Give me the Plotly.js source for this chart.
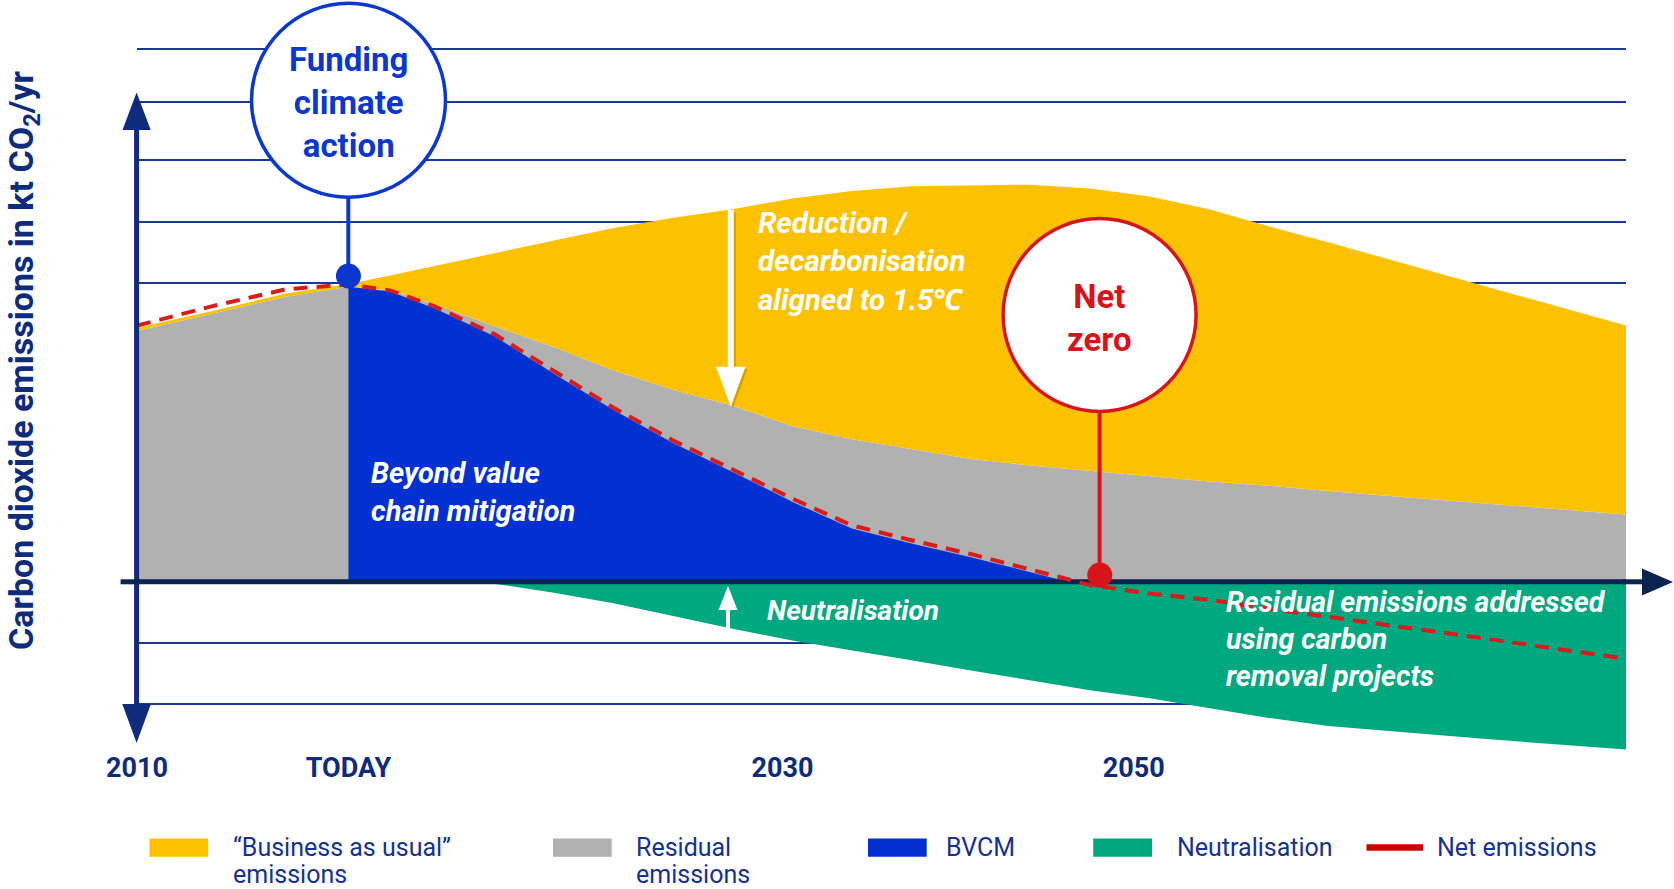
<!DOCTYPE html>
<html>
<head>
<meta charset="utf-8">
<script src="https://cdn.plot.ly/plotly-3.0.1.min.js"></script>
<style>
html,body{margin:0;padding:0;background:#ffffff;}
#chart{width:1674px;height:889px;}
</style>
</head>
<body>
<div id="chart"></div>
<script>
// ---------------- DATA (schematic timeline units: 2010 = 0 ... right edge = 100; y in kt CO2/yr units) -------------
const timeline = [0, 5, 10, 14.2, 17, 20, 24, 28, 32, 36, 40, 44, 48, 52, 56, 60, 64, 68, 72, 76, 80, 85, 90, 95, 100];
const residualEmissions = [4.094, 4.373, 4.652, 4.817, 4.756, 4.530, 4.172, 3.833, 3.449, 3.136, 2.875, 2.544, 2.326, 2.169, 2.003, 1.899, 1.812, 1.725, 1.638, 1.568, 1.481, 1.385, 1.289, 1.193, 1.098];
const businessAsUsual = [4.146, 4.416, 4.704, 4.861, 5.000, 5.157, 5.366, 5.575, 5.775, 5.941, 6.080, 6.254, 6.376, 6.455, 6.472, 6.481, 6.420, 6.289, 6.080, 5.801, 5.540, 5.200, 4.869, 4.530, 4.181];
const bvcmX = [14.2, 17, 20, 24, 28, 32, 36, 40, 44, 48, 52, 56, 60, 62.5];
const bvcmY = [4.817, 4.739, 4.460, 4.007, 3.397, 2.805, 2.265, 1.794, 1.307, 0.871, 0.627, 0.401, 0.157, 0];
const neutralisationX = [22.5, 24, 28, 32, 36, 40, 44, 48, 52, 56, 60, 64, 68, 72, 76, 80, 85, 90, 95, 100];
const neutralisationY = [0, -0.030, -0.180, -0.348, -0.557, -0.767, -0.958, -1.115, -1.280, -1.446, -1.603, -1.768, -1.899, -2.064, -2.221, -2.352, -2.456, -2.552, -2.648, -2.735];
const netEmissions = [4.181, 4.495, 4.774, 4.852, 4.756, 4.495, 4.042, 3.432, 2.840, 2.308, 1.838, 1.359, 0.923, 0.679, 0.453, 0.209, -0.052, -0.192, -0.293, -0.436, -0.575, -0.740, -0.906, -1.080, -1.254];
const tickPositions = [0, 14.2, 43.35, 66.94];
const tickLabels = ['2010', 'TODAY', '2030', '2050'];
const gridValues = [-2, -1, 4.88, 5.87, 6.88, 7.83, 8.70];
const calloutX = [14.2, 64.66];
const calloutY = [4.99, 0.11];
const seriesNames = ['\u201cBusiness as usual\u201d emissions', 'Residual emissions', 'BVCM', 'Neutralisation', 'Net emissions'];

// ---------------- STYLE / LAYOUT HELPERS ----------------
const W = 1674, H = 889, L = 137, R = 48, T = 20, B = 137;
const PW = W - L - R, PH = H - T - B;
const px = p => (p - L) / PW;          // pixel x -> paper
const py = p => (H - B - p) / PH;      // pixel y -> paper

const col = {
  bau: '#fcc200', residual: '#b1b1b1', bvcm: '#0330d0', neutral: '#00a880',
  net: '#d81c1c', navy: '#0f2b7c', dark: '#0b2350', fund: '#0b37cf', red: '#d7141a',
  grid: '#1b3a8c', legendText: '#16328c'
};
const FONT = 'Roboto, "Noto Sans", sans-serif';

const traces = [
  {x: timeline, y: residualEmissions, name: seriesNames[1], type: 'scatter', mode: 'lines',
   fill: 'tozeroy', fillcolor: col.residual, line: {width: 0, color: col.residual}, showlegend: false},
  {x: timeline, y: businessAsUsual, name: seriesNames[0], type: 'scatter', mode: 'lines',
   fill: 'tonexty', fillcolor: col.bau, line: {width: 0, color: col.bau}, showlegend: false},
  {x: bvcmX, y: bvcmY, name: seriesNames[2], type: 'scatter', mode: 'lines',
   fill: 'tozeroy', fillcolor: col.bvcm, line: {width: 0, color: col.bvcm}, showlegend: false},
  {x: neutralisationX, y: neutralisationY, name: seriesNames[3], type: 'scatter', mode: 'lines',
   fill: 'tozeroy', fillcolor: col.neutral, line: {width: 0, color: col.neutral}, showlegend: false},
  {x: [timeline[0], timeline[timeline.length - 1]], y: [0, 0], type: 'scatter', mode: 'lines',
   line: {width: 5, color: col.dark}, showlegend: false, hoverinfo: 'skip'},
  {x: timeline, y: netEmissions, name: seriesNames[4], type: 'scatter', mode: 'lines',
   line: {width: 4, color: col.net, dash: '14px,9px'}, showlegend: false},
  {x: calloutX, y: calloutY, type: 'scatter', mode: 'markers', cliponaxis: false,
   marker: {size: 25, color: [col.fund, col.red], line: {width: 0}}, showlegend: false, hoverinfo: 'skip'}
];

function line(x0, y0, x1, y1, color, width) {
  return {type: 'line', xref: 'paper', yref: 'paper', x0: px(x0), y0: py(y0), x1: px(x1), y1: py(y1),
          line: {color: color, width: width}, layer: 'above'};
}
function poly(points, color) {
  const d = points.map((p, i) => (i ? 'L' : 'M') + px(p[0]) + ',' + py(p[1])).join(' ') + ' Z';
  return {type: 'path', xref: 'paper', yref: 'paper', path: d, fillcolor: color, line: {width: 0}, layer: 'above'};
}
function rect(x0, y0, x1, y1, color) {
  return {type: 'rect', xref: 'paper', yref: 'paper', x0: px(x0), y0: py(y0), x1: px(x1), y1: py(y1),
          fillcolor: color, line: {width: 0}, layer: 'above'};
}
function circle(cx, cy, r, color) {
  return {type: 'circle', xref: 'paper', yref: 'paper', x0: px(cx - r), x1: px(cx + r), y0: py(cy + r), y1: py(cy - r),
          fillcolor: '#ffffff', line: {color: color, width: 3.5}, layer: 'above'};
}

const shapes = [
  // y axis with arrowheads
  line(136.6, 128, 136.6, 707, col.navy, 5),
  poly([[122.5, 130], [150.7, 130], [136.6, 92.5]], col.navy),
  poly([[122.3, 704], [150.9, 704], [136.6, 743]], col.navy),
  // zero line extensions + arrow
  line(120.6, 581.8, 140, 581.8, col.dark, 5),
  line(1622, 581.8, 1646, 581.8, col.dark, 5),
  poly([[1642, 568.5], [1642, 595.5], [1673, 582]], col.dark),
  // reduction arrow (shadow + white)
  line(732.8, 212, 732.8, 370, 'rgba(120,85,0,0.30)', 6),
  poly([[718, 368.7], [747.5, 368.7], [732.8, 408.7]], 'rgba(120,85,0,0.30)'),
  line(730.8, 210, 730.8, 370, '#ffffff', 6),
  poly([[716, 366.7], [745.5, 366.7], [730.8, 406.7]], '#ffffff'),
  // neutralisation arrow
  line(728, 632, 728, 606, '#ffffff', 4),
  poly([[718.5, 610], [737.5, 610], [728, 586]], '#ffffff'),
  // callouts
  line(348.3, 197, 348.3, 276, col.fund, 4),
  circle(348.5, 100.3, 97, col.fund),
  line(1099.6, 411, 1099.6, 574, col.red, 4),
  circle(1099.6, 315, 96.5, col.red),
  // legend swatches
  rect(149.5, 838.5, 208.2, 856.7, col.bau),
  rect(553, 838.5, 611.7, 856.7, col.residual),
  rect(868, 838.5, 926.7, 856.7, col.bvcm),
  rect(1093.2, 838.5, 1152, 856.7, col.neutral),
  line(1366.5, 847.6, 1423, 847.6, '#cc0000', 6.5)
];

function note(x, y, text, font, opts) {
  return Object.assign({xref: 'paper', yref: 'paper', x: px(x), y: py(y), text: text, showarrow: false,
    xanchor: 'left', yanchor: 'middle', align: 'left', font: font}, opts || {});
}
const whiteItalic = s => ({family: FONT, size: s, color: '#ffffff', weight: 700, style: 'italic'});
const legFont = {family: FONT, size: 25, color: col.legendText};

const annotations = [
  note(24, 360, 'Carbon dioxide emissions in kt CO<sub>2</sub>/yr', {family: FONT, size: 34, color: col.navy, weight: 700},
       {textangle: -90, xanchor: 'center', align: 'center'}),
  note(348.5, 103, 'Funding<br>climate<br>action', {family: FONT, size: 33, color: col.fund, weight: 700},
       {xanchor: 'center', align: 'center'}),
  note(1099.6, 318, 'Net<br>zero', {family: FONT, size: 33, color: col.red, weight: 700},
       {xanchor: 'center', align: 'center'}),
  note(756, 261, 'Reduction /<br>decarbonisation<br>aligned to 1.5\u2103', whiteItalic(29.5)),
  note(369, 491.7, 'Beyond value<br>chain mitigation', whiteItalic(29)),
  note(765, 610, 'Neutralisation', whiteItalic(28)),
  note(1224, 639, 'Residual emissions addressed<br>using carbon<br>removal projects', whiteItalic(28.5)),
  // legend texts
  note(230.7, 847, '\u201cBusiness as usual\u201d', legFont),
  note(230.7, 874, 'emissions', legFont),
  note(634.3, 847, 'Residual', legFont),
  note(634.3, 874, 'emissions', legFont),
  note(944, 847, 'BVCM', legFont),
  note(1174.5, 847, 'Neutralisation', legFont),
  note(1435, 847, 'Net emissions', legFont)
];

const layout = {
  width: W, height: H,
  margin: {l: L, r: R, t: T, b: B, pad: 0},
  paper_bgcolor: '#ffffff', plot_bgcolor: '#ffffff',
  showlegend: false, hovermode: false,
  xaxis: {range: [0, 100], tickmode: 'array', tickvals: tickPositions, ticktext: tickLabels,
          showgrid: false, zeroline: false, showline: false, ticks: '', ticklabelstandoff: -3,
          tickfont: {family: FONT, size: 27, color: col.navy, weight: 700}, fixedrange: true},
  yaxis: {range: [-2.777, 9.168], tickmode: 'array', tickvals: gridValues, showticklabels: false,
          showgrid: true, gridcolor: col.grid, gridwidth: 1.8, zeroline: false, showline: false, ticks: '',
          fixedrange: true},
  shapes: shapes,
  annotations: annotations
};

Plotly.newPlot('chart', traces, layout, {staticPlot: true, displayModeBar: false});
</script>
</body>
</html>
